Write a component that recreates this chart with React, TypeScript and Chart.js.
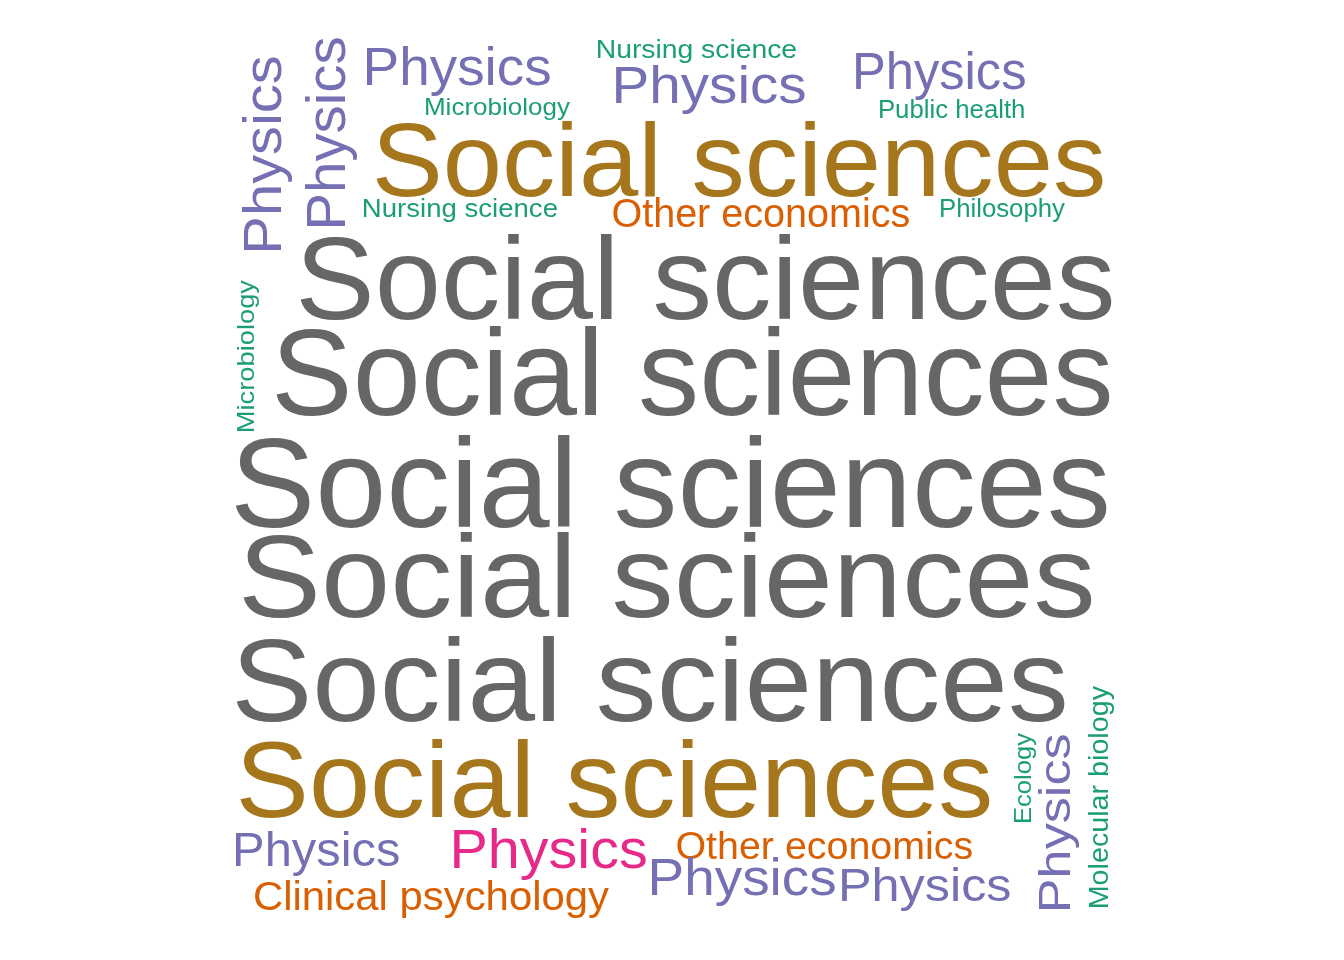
import React, { useEffect, useRef } from "react";
import { Chart, registerables } from "chart.js";

Chart.register(...registerables);

// Word cloud data: each word with its ink box (in chart units) and rotation
const words = [
  "Physics", "Physics", "Physics", "Nursing science", "Physics", "Physics",
  "Microbiology", "Public health", "Social sciences", "Nursing science",
  "Other economics", "Philosophy", "Social sciences", "Microbiology",
  "Social sciences", "Social sciences", "Social sciences", "Social sciences",
  "Social sciences", "Ecology", "Physics", "Molecular biology", "Physics",
  "Physics", "Other economics", "Physics", "Physics", "Clinical psychology",
];
const xLeft = [242, 305, 367, 598, 616, 856, 426, 880, 376, 364, 613, 941, 300, 236, 276, 235, 243, 236, 240, 1013, 1037, 1088, 236, 454, 677, 652, 842, 255];
const xRight = [292, 357, 550, 796, 805, 1025, 570, 1024, 1103, 557, 909, 1065, 1112, 259, 1110, 1107, 1092, 1065, 990, 1036, 1079, 1114, 399, 646, 972, 835, 1010, 609];
const yTop = [57, 38, 46, 39, 66, 52, 97, 99, 120, 198, 197, 198, 233, 280, 326, 434, 532, 636, 739, 733, 735, 686, 830, 827, 830, 857, 867, 880];
const yBottom = [250, 226, 96, 64, 114, 100, 120, 118, 197, 223, 227, 223, 320, 431, 416, 528, 618, 722, 818, 822, 909, 907, 876, 880, 859, 906, 911, 918];
const rotation = [90, 90, 0, 0, 0, 0, 0, 0, 0, 0, 0, 0, 0, 90, 0, 0, 0, 0, 0, 90, 90, 90, 0, 0, 0, 0, 0, 0];
const colorKey = [
  "purple", "purple", "purple", "green", "purple", "purple", "green", "green",
  "brown", "green", "orange", "green", "gray", "green", "gray", "gray", "gray",
  "gray", "brown", "green", "purple", "green", "purple", "pink", "orange",
  "purple", "purple", "orange",
];

const palette: Record<string, string> = {
  green: "#1B9E77",
  orange: "#D95F02",
  purple: "#7570B3",
  pink: "#E7298A",
  brown: "#A6761D",
  gray: "#666666",
};

const FONT = '"Liberation Sans", Arial, Helvetica, sans-serif';

const wordPlugin = {
  id: "wordcloudText",
  afterDatasetsDraw(chart: any) {
    const { ctx, scales } = chart;
    const xs = scales.x;
    const ys = scales.y;
    words.forEach((w, i) => {
      const px0 = xs.getPixelForValue(xLeft[i]);
      const px1 = xs.getPixelForValue(xRight[i]);
      const py0 = ys.getPixelForValue(yTop[i]);
      const py1 = ys.getPixelForValue(yBottom[i]);
      ctx.save();
      ctx.font = "100px " + FONT;
      ctx.textAlign = "left";
      ctx.textBaseline = "alphabetic";
      const m = ctx.measureText(w);
      const inkW = m.actualBoundingBoxLeft + m.actualBoundingBoxRight;
      const inkH = m.actualBoundingBoxAscent + m.actualBoundingBoxDescent;
      ctx.fillStyle = palette[colorKey[i]];
      if (rotation[i] === 0) {
        ctx.translate(px0, py0);
        ctx.scale((px1 - px0) / inkW, (py1 - py0) / inkH);
      } else {
        ctx.translate(px0, py1);
        ctx.rotate(-Math.PI / 2);
        ctx.scale((py1 - py0) / inkW, (px1 - px0) / inkH);
      }
      ctx.fillText(w, m.actualBoundingBoxLeft, m.actualBoundingBoxAscent);
      ctx.restore();
    });
  },
};

export default function App() {
  const ref = useRef<HTMLCanvasElement | null>(null);
  useEffect(() => {
    document.body.style.margin = "0";
    const canvas = ref.current;
    if (!canvas) return;
    const points = words.map((_, i) => ({
      x: (xLeft[i] + xRight[i]) / 2,
      y: (yTop[i] + yBottom[i]) / 2,
    }));
    const chart = new Chart(canvas, {
      type: "scatter",
      data: {
        datasets: [
          {
            label: "words",
            data: points,
            pointRadius: 0,
            pointHoverRadius: 0,
          },
        ],
      },
      options: {
        responsive: false,
        animation: false,
        layout: { padding: 0 },
        plugins: {
          legend: { display: false },
          tooltip: { enabled: false },
        },
        scales: {
          x: { type: "linear", min: 0, max: 1344, display: false },
          y: { type: "linear", min: 0, max: 960, reverse: true, display: false },
        },
      },
      plugins: [wordPlugin],
    });
    return () => chart.destroy();
  }, []);
  return (
    <div style={{ width: 1344, height: 960, background: "#ffffff" }}>
      <canvas ref={ref} width={1344} height={960} style={{ display: "block" }} />
    </div>
  );
}
